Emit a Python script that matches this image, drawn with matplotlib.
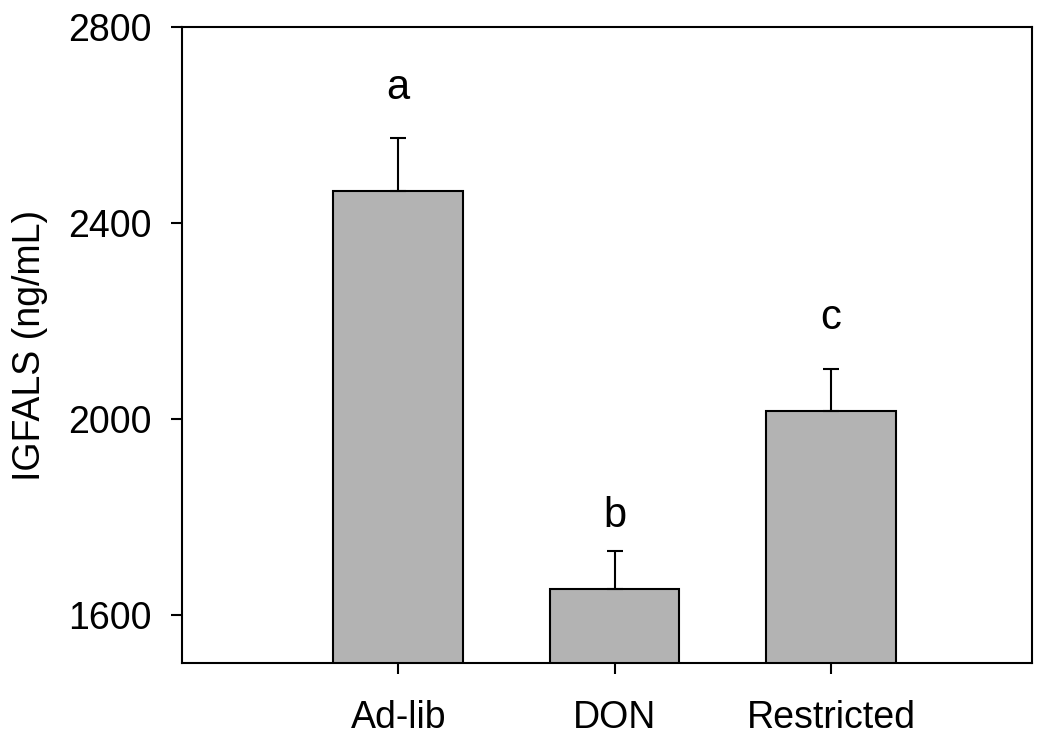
import matplotlib.pyplot as plt
import numpy as np

plt.rcParams['font.family'] = ['Liberation Sans', 'DejaVu Sans']

groups = ['Ad-lib', 'DON', 'Restricted']
means = [2465, 1653, 2016]
sem = [108, 78, 86]
letters = ['a', 'b', 'c']
letter_y = [2653, 1780, 2184]

fig = plt.figure(figsize=(10.5, 7.41), dpi=100)
ax = fig.add_axes([0.1733, 0.1053, 0.8096, 0.8583])

x = np.arange(1, len(groups) + 1)
ax.bar(x, means, 0.6, color='#b3b3b3', edgecolor='black', linewidth=1.5,
       yerr=[np.zeros(len(sem)), sem],
       error_kw=dict(ecolor='black', elinewidth=1.5, capsize=6, capthick=1.5),
       zorder=2)

for xi, lab, ly in zip(x, letters, letter_y):
    ax.text(xi, ly, lab, ha='center', va='baseline', fontsize=30)

ax.set_xlim(0, 3.93)
ax.set_ylim(1502, 2800)
ax.set_yticks([1600, 2000, 2400, 2800])
ax.set_xticks(x)
ax.set_xticklabels(groups)
ax.set_ylabel('IGFALS (ng/mL)', fontsize=27, labelpad=14)
ax.tick_params(axis='both', labelsize=27, direction='out', length=8, width=1.5)
ax.tick_params(axis='y', pad=14)
ax.tick_params(axis='x', pad=19)
for s in ax.spines.values():
    s.set_linewidth(1.5)

plt.savefig('out.png', dpi=100)
plt.close()
